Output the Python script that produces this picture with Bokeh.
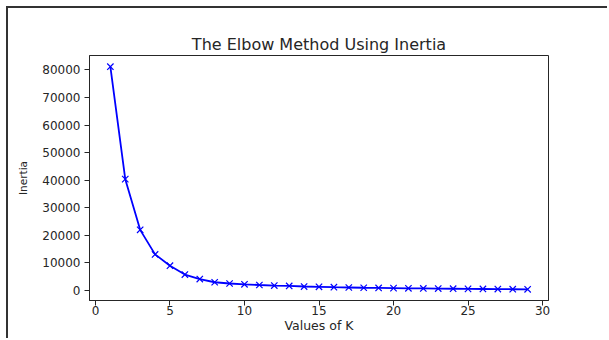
from bokeh.plotting import figure
from bokeh.models import Range1d, FixedTicker
from bokeh.embed import file_html
from bokeh.resources import INLINE

# Inertia of k-means fits for k = 1 .. 29
k_values = list(range(1, 30))
inertia = [81200, 40400, 22000, 13100, 9000, 5800, 4150, 3000, 2550, 2250,
           2000, 1800, 1650, 1450, 1350, 1200, 1100, 1000, 950, 870,
           800, 750, 700, 650, 600, 560, 520, 470, 420]

x_ticks = [0, 5, 10, 15, 20, 25, 30]
y_ticks = [0, 10000, 20000, 30000, 40000, 50000, 60000, 70000, 80000]

FONT = "DejaVu Sans"
INK = "#262626"


def padded(lo, hi, frac=0.05):
    pad = (hi - lo) * frac
    return lo - pad, hi + pad


x0, x1 = padded(min(k_values), max(k_values))
y0, y1 = padded(min(inertia), max(inertia))

p = figure(
    width=601, height=332,
    x_range=Range1d(x0, x1), y_range=Range1d(y0, y1),
    output_backend="svg", toolbar_location=None,
    title="The Elbow Method Using Inertia",
    min_border_left=81, min_border_right=61,
    min_border_top=47, min_border_bottom=40,
    styles={"margin-left": "6px", "margin-top": "6px",
            "border-left": "2px solid #333333",
            "border-top": "2px solid #333333"},
)

p.title.align = "center"
p.title.text_font = FONT
p.title.text_font_size = "16px"
p.title.text_font_style = "normal"
p.title.text_color = INK
p.title.standoff = 3

p.xgrid.visible = False
p.ygrid.visible = False
p.outline_line_color = INK
p.outline_line_width = 1

for ax in (p.xaxis, p.yaxis):
    ax.minor_tick_line_color = None
    ax.major_tick_in = 0
    ax.major_tick_out = 5
    ax.major_tick_line_color = INK
    ax.axis_line_color = INK
    ax.major_label_text_font = FONT
    ax.major_label_text_font_size = "12px"
    ax.major_label_text_color = INK
    ax.axis_label_text_font = FONT
    ax.axis_label_text_font_style = "normal"
    ax.axis_label_text_color = INK

p.xaxis.ticker = FixedTicker(ticks=x_ticks)
p.yaxis.ticker = FixedTicker(ticks=y_ticks)
p.xaxis.axis_label = "Values of K"
p.xaxis.axis_label_text_font_size = "12.5px"
p.xaxis.major_label_standoff = 0
p.xaxis.axis_label_standoff = 0
p.yaxis.axis_label = "Inertia"
p.yaxis.axis_label_text_font_size = "10.5px"
p.yaxis.major_label_standoff = 4
p.yaxis.axis_label_standoff = 10

p.line(k_values, inertia, line_color="#0000ff", line_width=1.8)
p.scatter(k_values, inertia, marker="x", size=9, line_color="#0000ff",
          line_width=1.2)

open("out.html", "w").write(file_html(p, INLINE))
